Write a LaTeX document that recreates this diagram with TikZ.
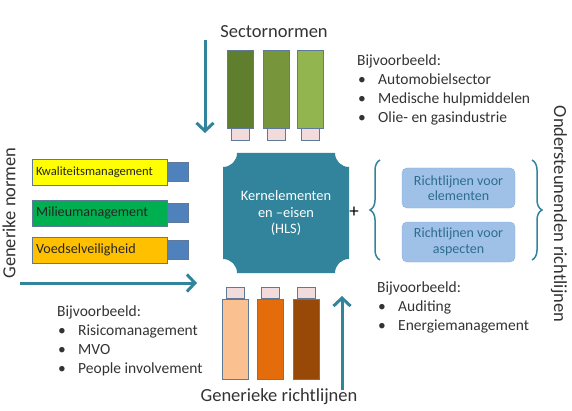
\documentclass[tikz,border=0pt]{standalone}
\usepackage{fontspec}
\setmainfont{Carlito}
\usetikzlibrary{arrows.meta,decorations.pathreplacing}
\definecolor{hlsteal}{HTML}{31849B}
\definecolor{txtgray}{HTML}{333333}
\definecolor{barline}{HTML}{5F7A99}
\definecolor{cappink}{HTML}{F2DCDB}
\definecolor{plugblue}{HTML}{4F81BD}
\definecolor{grA}{HTML}{5F7F2E}
\definecolor{grB}{HTML}{77953B}
\definecolor{grC}{HTML}{92B550}
\definecolor{orA}{HTML}{FAC090}
\definecolor{orB}{HTML}{E46C0A}
\definecolor{orC}{HTML}{984807}
\definecolor{kwal}{HTML}{FFFF00}
\definecolor{milieu}{HTML}{00B050}
\definecolor{voedsel}{HTML}{FFC000}
\definecolor{rlfill}{HTML}{9FC1E8}
\definecolor{rlline}{HTML}{8DB0DA}
\definecolor{rltext}{HTML}{2D6D8E}
\newcommand\bul{\hspace{1pt}\makebox[20pt][l]{\textbullet}}
\begin{document}
\begin{tikzpicture}
  [x=1pt,y=1pt,every node/.style={text=txtgray},
   bar/.style={draw=barline,line width=.7pt,inner sep=0pt},
   flow/.style={hlsteal,line width=3pt,-{Straight Barb[length=8pt,width=17pt]}},
   bigtxt/.style={font=\fontsize{18.5}{22}\selectfont},
   list/.style={align=left,inner sep=0pt,anchor=north west,font=\fontsize{15.5}{18.7}\selectfont},
   rlbox/.style={draw=rlline,fill=rlfill,rounded corners=5pt,minimum width=113,minimum height=40,
     align=center,text=rltext,font=\fontsize{14}{15.5}\selectfont}]
  \useasboundingbox (0,0) rectangle (572,410);

  % sectornormen
  \node[bigtxt] (sector) at (274,378) {Sectornormen};
  \foreach \i/\x/\c in {1/240/grA,2/276/grB,3/310/grC} {
    \node[bar,fill=\c,minimum width=26,minimum height=78] (s\i) at (\x,321) {};
    \node[bar,fill=cappink,minimum width=18,minimum height=12,anchor=north] (sc\i) at (s\i.south) {};
  }
  \coordinate (sfrom) at (205,370);
  \coordinate (sto) at (205,277);
  \draw[flow] (sfrom) -- (sto);

  % kern
  \fill[hlsteal] (237,257) -- (335,257) arc[start angle=180,end angle=270,radius=14]
    -- (349,151) arc[start angle=90,end angle=180,radius=14]
    -- (237,137) arc[start angle=0,end angle=90,radius=14]
    -- (223,243) arc[start angle=270,end angle=360,radius=14] -- cycle;
  \node[text=white,align=center,font=\fontsize{14.4}{16.5}\selectfont] (hls) at (286,197)
    {Kernelementen\\en –eisen\\(HLS)};
  \node[font=\fontsize{19}{19}\selectfont,text=black] (plus) at (354,198) {+};

  % generieke normen
  \node[bigtxt,rotate=90] (gennorm) at (9,197) {Generike normen};
  \foreach \i/\y/\c/\t/\fs in {1/238/kwal/Kwaliteitsmanagement/12.6,
      2/197/milieu/Milieumanagement/14.1,3/160/voedsel/Voedselveiligheid/14.1} {
    \node[bar,fill=\c,minimum width=135,minimum height=26,text width=127,align=left,
      font=\fontsize{\fs}{\fs}\selectfont,text=black!85] (g\i) at (99.5,\y) {\t};
    \node[bar,fill=plugblue,minimum width=21,minimum height=19,anchor=west] (gp\i) at (g\i.east) {};
  }
  \coordinate (gfrom) at (20,127);
  \coordinate (gto) at (197,127);
  \draw[flow] (gfrom) -- (gto);
  \node[list] (vbgen) at (57,104) {Bijvoorbeeld:\\\bul Risicomanagement\\\bul MVO\\\bul People involvement};

  % generieke richtlijnen
  \foreach \i/\x/\c in {1/235.5/orA,2/270/orB,3/306/orC} {
    \node[bar,fill=\c,minimum width=26,minimum height=80] (r\i) at (\x,71) {};
    \node[bar,fill=cappink,minimum width=18,minimum height=11,anchor=south] (rc\i) at (r\i.north) {};
  }
  \coordinate (rfrom) at (342,20);
  \coordinate (rto) at (342,114);
  \draw[flow] (rfrom) -- (rto);
  \node[bigtxt] (genrl) at (279,13) {Generieke richtlijnen};

  % ondersteunende richtlijnen
  \draw[hlsteal,line width=1.5pt,decorate,decoration={brace,amplitude=10pt}] (380,150) -- (380,250);
  \draw[hlsteal,line width=1.5pt,decorate,decoration={brace,amplitude=10pt}] (532,250) -- (532,150);
  \node[rlbox] (rl1) at (458.5,222) {Richtlijnen voor\\elementen};
  \node[rlbox] (rl2) at (458.5,168) {Richtlijnen voor\\aspecten};
  \node[bigtxt,rotate=-90] (ondrl) at (559,196) {Ondersteunenden richtlijnen};

  % voorbeelden
  \node[list] (vbsector) at (357,355) {Bijvoorbeeld:\\\bul Automobielsector\\\bul Medische hulpmiddelen\\\bul Olie- en gasindustrie};
  \node[list] (vbond) at (377,128) {Bijvoorbeeld:\\\bul Auditing\\\bul Energiemanagement};
\end{tikzpicture}
\end{document}
